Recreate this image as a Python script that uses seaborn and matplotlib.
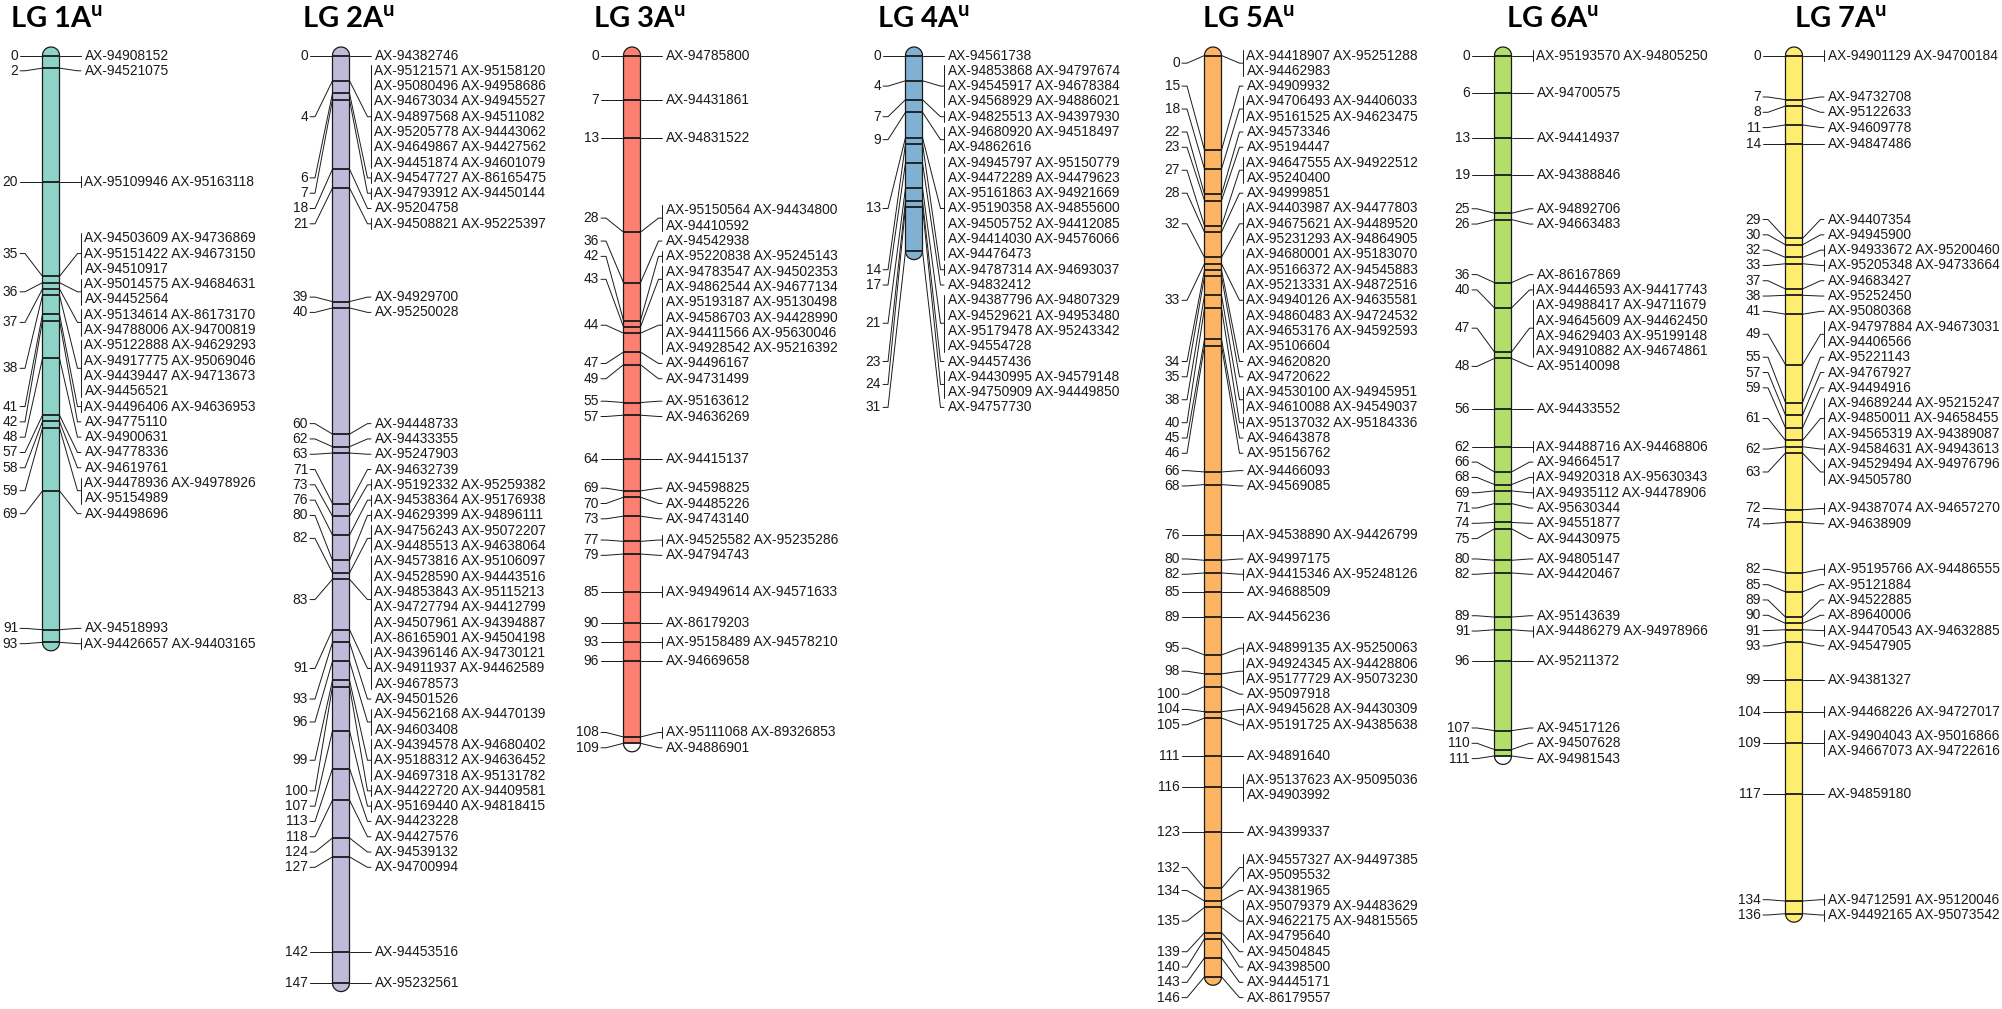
import numpy as np
import matplotlib
matplotlib.use('Agg')
import matplotlib.pyplot as plt
from matplotlib.patches import Polygon
import seaborn as sns

# linkage groups: positions (cM) and markers at each position
lg1_pos = [0, 2, 20, 35, 36, 37, 38, 41, 42, 48, 57, 58, 59, 69, 91, 93]
lg1_markers = [
    ["AX-94908152"], ["AX-94521075"], ["AX-95109946", "AX-95163118"],
    ["AX-94503609", "AX-94736869", "AX-95151422", "AX-94673150", "AX-94510917"],
    ["AX-95014575", "AX-94684631", "AX-94452564"],
    ["AX-95134614", "AX-86173170", "AX-94788006", "AX-94700819"],
    ["AX-95122888", "AX-94629293", "AX-94917775", "AX-95069046", "AX-94439447", "AX-94713673", "AX-94456521"],
    ["AX-94496406", "AX-94636953"], ["AX-94775110"], ["AX-94900631"], ["AX-94778336"], ["AX-94619761"],
    ["AX-94478936", "AX-94978926", "AX-95154989"], ["AX-94498696"], ["AX-94518993"],
    ["AX-94426657", "AX-94403165"],
]

lg2_pos = [0, 4, 6, 7, 18, 21, 39, 40, 60, 62, 63, 71, 73, 76, 80, 82, 83, 91, 93, 96, 99, 100,
           107, 113, 118, 124, 127, 142, 147]
lg2_markers = [
    ["AX-94382746"],
    ["AX-95121571", "AX-95158120", "AX-95080496", "AX-94958686", "AX-94673034", "AX-94945527",
     "AX-94897568", "AX-94511082", "AX-95205778", "AX-94443062", "AX-94649867", "AX-94427562",
     "AX-94451874", "AX-94601079"],
    ["AX-94547727", "AX-86165475"], ["AX-94793912", "AX-94450144"], ["AX-95204758"],
    ["AX-94508821", "AX-95225397"], ["AX-94929700"], ["AX-95250028"], ["AX-94448733"],
    ["AX-94433355"], ["AX-95247903"], ["AX-94632739"], ["AX-95192332", "AX-95259382"],
    ["AX-94538364", "AX-95176938"], ["AX-94629399", "AX-94896111"],
    ["AX-94756243", "AX-95072207", "AX-94485513", "AX-94638064"],
    ["AX-94573816", "AX-95106097", "AX-94528590", "AX-94443516", "AX-94853843", "AX-95115213",
     "AX-94727794", "AX-94412799", "AX-94507961", "AX-94394887", "AX-86165901", "AX-94504198"],
    ["AX-94396146", "AX-94730121", "AX-94911937", "AX-94462589", "AX-94678573"],
    ["AX-94501526"], ["AX-94562168", "AX-94470139", "AX-94603408"],
    ["AX-94394578", "AX-94680402", "AX-95188312", "AX-94636452", "AX-94697318", "AX-95131782"],
    ["AX-94422720", "AX-94409581"], ["AX-95169440", "AX-94818415"], ["AX-94423228"],
    ["AX-94427576"], ["AX-94539132"], ["AX-94700994"], ["AX-94453516"], ["AX-95232561"],
]

lg3_pos = [0, 7, 13, 28, 36, 42, 43, 44, 47, 49, 55, 57, 64, 69, 70, 73, 77, 79, 85, 90, 93, 96, 108, 109]
lg3_markers = [
    ["AX-94785800"], ["AX-94431861"], ["AX-94831522"], ["AX-95150564", "AX-94434800", "AX-94410592"],
    ["AX-94542938"], ["AX-95220838", "AX-95245143"],
    ["AX-94783547", "AX-94502353", "AX-94862544", "AX-94677134"],
    ["AX-95193187", "AX-95130498", "AX-94586703", "AX-94428990", "AX-94411566", "AX-95630046",
     "AX-94928542", "AX-95216392"],
    ["AX-94496167"], ["AX-94731499"], ["AX-95163612"], ["AX-94636269"], ["AX-94415137"],
    ["AX-94598825"], ["AX-94485226"], ["AX-94743140"], ["AX-94525582", "AX-95235286"],
    ["AX-94794743"], ["AX-94949614", "AX-94571633"], ["AX-86179203"], ["AX-95158489", "AX-94578210"],
    ["AX-94669658"], ["AX-95111068", "AX-89326853"], ["AX-94886901"],
]

lg4_pos = [0, 4, 7, 9, 13, 14, 17, 21, 23, 24, 31]
lg4_markers = [
    ["AX-94561738"],
    ["AX-94853868", "AX-94797674", "AX-94545917", "AX-94678384", "AX-94568929", "AX-94886021"],
    ["AX-94825513", "AX-94397930"], ["AX-94680920", "AX-94518497", "AX-94862616"],
    ["AX-94945797", "AX-95150779", "AX-94472289", "AX-94479623", "AX-95161863", "AX-94921669",
     "AX-95190358", "AX-94855600", "AX-94505752", "AX-94412085", "AX-94414030", "AX-94576066",
     "AX-94476473"],
    ["AX-94787314", "AX-94693037"], ["AX-94832412"],
    ["AX-94387796", "AX-94807329", "AX-94529621", "AX-94953480", "AX-95179478", "AX-95243342",
     "AX-94554728"],
    ["AX-94457436"], ["AX-94430995", "AX-94579148", "AX-94750909", "AX-94449850"], ["AX-94757730"],
]

lg5_pos = [0, 15, 18, 22, 23, 27, 28, 32, 33, 34, 35, 38, 40, 45, 46, 66, 68, 76, 80, 82, 85, 89,
           95, 98, 100, 104, 105, 111, 116, 123, 132, 134, 135, 139, 140, 143, 146]
lg5_markers = [
    ["AX-94418907", "AX-95251288", "AX-94462983"], ["AX-94909932"],
    ["AX-94706493", "AX-94406033", "AX-95161525", "AX-94623475"], ["AX-94573346"], ["AX-95194447"],
    ["AX-94647555", "AX-94922512", "AX-95240400"], ["AX-94999851"],
    ["AX-94403987", "AX-94477803", "AX-94675621", "AX-94489520", "AX-95231293", "AX-94864905"],
    ["AX-94680001", "AX-95183070", "AX-95166372", "AX-94545883", "AX-95213331", "AX-94872516",
     "AX-94940126", "AX-94635581", "AX-94860483", "AX-94724532", "AX-94653176", "AX-94592593",
     "AX-95106604"],
    ["AX-94620820"], ["AX-94720622"], ["AX-94530100", "AX-94945951", "AX-94610088", "AX-94549037"],
    ["AX-95137032", "AX-95184336"], ["AX-94643878"], ["AX-95156762"], ["AX-94466093"],
    ["AX-94569085"], ["AX-94538890", "AX-94426799"], ["AX-94997175"], ["AX-94415346", "AX-95248126"],
    ["AX-94688509"], ["AX-94456236"], ["AX-94899135", "AX-95250063"],
    ["AX-94924345", "AX-94428806", "AX-95177729", "AX-95073230"], ["AX-95097918"],
    ["AX-94945628", "AX-94430309"], ["AX-95191725", "AX-94385638"], ["AX-94891640"],
    ["AX-95137623", "AX-95095036", "AX-94903992"], ["AX-94399337"],
    ["AX-94557327", "AX-94497385", "AX-95095532"], ["AX-94381965"],
    ["AX-95079379", "AX-94483629", "AX-94622175", "AX-94815565", "AX-94795640"],
    ["AX-94504845"], ["AX-94398500"], ["AX-94445171"], ["AX-86179557"],
]

lg6_pos = [0, 6, 13, 19, 25, 26, 36, 40, 47, 48, 56, 62, 66, 68, 69, 71, 74, 75, 80, 82, 89, 91,
           96, 107, 110, 111]
lg6_markers = [
    ["AX-95193570", "AX-94805250"], ["AX-94700575"], ["AX-94414937"], ["AX-94388846"],
    ["AX-94892706"], ["AX-94663483"], ["AX-86167869"], ["AX-94446593", "AX-94417743"],
    ["AX-94988417", "AX-94711679", "AX-94645609", "AX-94462450", "AX-94629403", "AX-95199148",
     "AX-94910882", "AX-94674861"],
    ["AX-95140098"], ["AX-94433552"], ["AX-94488716", "AX-94468806"], ["AX-94664517"],
    ["AX-94920318", "AX-95630343"], ["AX-94935112", "AX-94478906"], ["AX-95630344"],
    ["AX-94551877"], ["AX-94430975"], ["AX-94805147"], ["AX-94420467"], ["AX-95143639"],
    ["AX-94486279", "AX-94978966"], ["AX-95211372"], ["AX-94517126"], ["AX-94507628"],
    ["AX-94981543"],
]

lg7_pos = [0, 7, 8, 11, 14, 29, 30, 32, 33, 37, 38, 41, 49, 55, 57, 59, 61, 62, 63, 72, 74, 82,
           85, 89, 90, 91, 93, 99, 104, 109, 117, 134, 136]
lg7_markers = [
    ["AX-94901129", "AX-94700184"], ["AX-94732708"], ["AX-95122633"], ["AX-94609778"],
    ["AX-94847486"], ["AX-94407354"], ["AX-94945900"], ["AX-94933672", "AX-95200460"],
    ["AX-95205348", "AX-94733664"], ["AX-94683427"], ["AX-95252450"], ["AX-95080368"],
    ["AX-94797884", "AX-94673031", "AX-94406566"], ["AX-95221143"], ["AX-94767927"],
    ["AX-94494916"],
    ["AX-94689244", "AX-95215247", "AX-94850011", "AX-94658455", "AX-94565319", "AX-94389087"],
    ["AX-94584631", "AX-94943613"], ["AX-94529494", "AX-94976796", "AX-94505780"],
    ["AX-94387074", "AX-94657270"], ["AX-94638909"], ["AX-95195766", "AX-94486555"],
    ["AX-95121884"], ["AX-94522885"], ["AX-89640006"], ["AX-94470543", "AX-94632885"],
    ["AX-94547905"], ["AX-94381327"], ["AX-94468226", "AX-94727017"],
    ["AX-94904043", "AX-95016866", "AX-94667073", "AX-94722616"], ["AX-94859180"],
    ["AX-94712591", "AX-95120046"], ["AX-94492165", "AX-95073542"],
]

group_names = ["1A", "2A", "3A", "4A", "5A", "6A", "7A"]

sns.set_theme(style="white")
plt.rcParams['font.family'] = ['Liberation Sans', 'DejaVu Sans']
plt.rcParams['mathtext.fontset'] = 'custom'
plt.rcParams['mathtext.rm'] = 'Lato'
plt.rcParams['mathtext.bf'] = 'Lato:bold'

pal = sns.color_palette("Set3", 12)
colors = [pal[0], pal[2], pal[3], pal[4], pal[5], pal[6], pal[11]]

# layout (pixels)
PX = 6.31          # pixels per cM
Y0 = 55.5          # pixel row of 0 cM
ROW = 15.3 / PX    # label row height in cM
HW = 8.5           # half width of the bar
centers = [51, 341, 632, 914, 1213, 1503, 1794]
title_x = [10, 302, 593, 877, 1202, 1506, 1794]
white_end = [False, False, True, False, False, True, False]


def layout(pos, nrows):
    # spread label groups so they don't overlap
    blocks = [[i] for i in range(len(pos))]

    def place(b):
        rel = np.cumsum([0] + [nrows[i] for i in b]) * ROW
        cf = (rel[0] + rel[1]) / 2
        cl = (rel[-2] + rel[-1]) / 2
        top = (pos[b[0]] + pos[b[-1]]) / 2 - (cf + cl) / 2
        return max(top, -ROW / 2), rel[-1]

    merged = True
    while merged:
        merged = False
        for k in range(len(blocks) - 1):
            t1, h1 = place(blocks[k])
            t2, _ = place(blocks[k + 1])
            if t1 + h1 > t2 + 1e-9:
                blocks[k] = blocks[k] + blocks.pop(k + 1)
                merged = True
                break
    tops = []
    for b in blocks:
        t, _ = place(b)
        for i in b:
            tops.append(t)
            t += nrows[i] * ROW
    return tops


fig = plt.figure(figsize=(20.02, 10.09), dpi=100)
ax = fig.add_axes([0, 0, 1, 1])
ax.set_xlim(0, 2002)
ax.set_ylim((1009 - Y0) / PX, -Y0 / PX)
ax.axis('off')

all_pos = [lg1_pos, lg2_pos, lg3_pos, lg4_pos, lg5_pos, lg6_pos, lg7_pos]
all_markers = [lg1_markers, lg2_markers, lg3_markers, lg4_markers, lg5_markers, lg6_markers, lg7_markers]
ink = '#1a1a1a'
fs = 9.9

for g in range(7):
    cx = centers[g]
    pos = all_pos[g]
    markers = all_markers[g]
    end = max(pos)

    # chromosome bar with rounded ends
    t = np.linspace(np.pi, 0, 30)
    top_x = cx + HW * np.cos(t)
    top_y = -HW * np.sin(t) / PX
    bot_x = cx + HW * np.cos(t[::-1])
    bot_y = end + HW * np.sin(t[::-1]) / PX
    xs = np.r_[top_x, bot_x]
    ys = np.r_[top_y, bot_y]
    ax.add_patch(Polygon(np.c_[xs, ys], closed=True, facecolor=colors[g], edgecolor='none', zorder=1))
    if white_end[g]:
        ax.add_patch(Polygon(np.c_[bot_x, bot_y], closed=True, facecolor='white', edgecolor='none', zorder=1.5))
    ax.add_patch(Polygon(np.c_[xs, ys], closed=True, facecolor='none', edgecolor=ink, lw=0.9, zorder=3))
    ax.hlines(pos, cx - HW, cx + HW, color=ink, lw=1.3, zorder=2)

    rows = [[" ".join(m[k:k + 2]) for k in range(0, len(m), 2)] for m in markers]
    tops = layout(pos, [len(r) for r in rows])

    for p, r, top in zip(pos, rows, tops):
        c = top + len(r) * ROW / 2
        ax.plot([cx + HW, cx + 26.5, cx + 30], [p, c, c], color=ink, lw=0.7, zorder=2)
        ax.plot([cx - HW, cx - 26, cx - 31], [p, c, c], color=ink, lw=0.7, zorder=2)
        ax.text(cx - 33, c, str(p), ha='right', va='center', fontsize=fs, color=ink)
        m_count = sum(len(s.split()) for s in r)
        if m_count > 1:
            ax.plot([cx + 30, cx + 30], [top + ROW / 2 - 5.5 / PX, top + (len(r) - 0.5) * ROW + 5.5 / PX],
                    color=ink, lw=0.7)
        for k, line in enumerate(r):
            ax.text(cx + 33.5, top + (k + 0.5) * ROW, line, ha='left', va='center', fontsize=fs, color=ink)

    ax.text(title_x[g], (27 - Y0) / PX, "LG " + group_names[g] + r"$^{\mathbf{u}}$",
            fontsize=21, fontweight='bold', family='Lato', va='baseline', ha='left', color='black')

fig.savefig("out.png", dpi=100, facecolor='white')
